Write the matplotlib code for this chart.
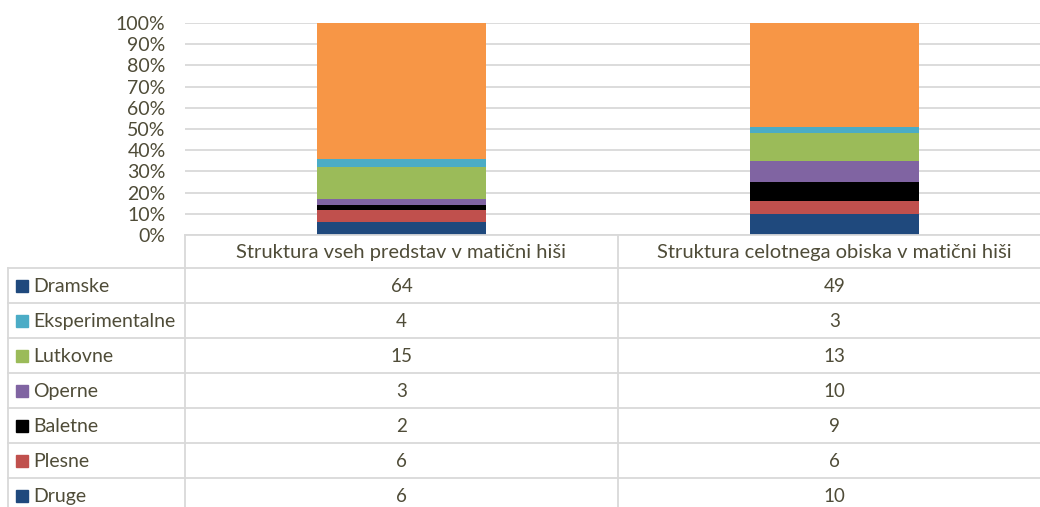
import numpy as np
import matplotlib
matplotlib.use('Agg')
import matplotlib.pyplot as plt
from matplotlib.patches import Rectangle

plt.rcParams['font.family'] = ['Lato', 'DejaVu Sans']

# data, bottom of stack first
categories = ['Druge', 'Plesne', 'Baletne', 'Operne', 'Lutkovne', 'Eksperimentalne', 'Dramske']
predstave = [6, 6, 2, 3, 15, 4, 64]
obisk = [10, 6, 9, 10, 13, 3, 49]
columns = ['Struktura vseh predstav v matični hiši', 'Struktura celotnega obiska v matični hiši']

bar_colors = ['#1F497D', '#C0504D', '#000000', '#8064A2', '#9BBB59', '#4BACC6', '#F79646']
# excel draws the Dramske key with the first colour in the table
key_colors = ['#1F497D', '#C0504D', '#000000', '#8064A2', '#9BBB59', '#4BACC6', '#1F497D']

txt = '#4F4C38'
grid = '#D9D9D9'
W, H = 1040, 507
fs = 13.5

fig = plt.figure(figsize=(W / 100, H / 100), dpi=100)

def fx(px):
    return px / W

def fy(py):
    return 1 - py / H

# bar area
col_w = 433
ax = fig.add_axes([fx(185), fy(235), fx(2 * col_w), fy(23) - fy(235)])
vals = np.array([predstave, obisk], dtype=float).T
vals = vals / vals.sum(axis=0)
bottom = np.zeros(2)
for v, c in zip(vals, bar_colors):
    ax.bar([0, 1], v, bottom=bottom, width=0.39, color=c, zorder=3)
    bottom += v
ax.set_xlim(-0.5, 1.5)
ax.set_ylim(0, 1)
ticks = np.arange(0, 1.01, 0.1)
ax.set_yticks(ticks)
ax.set_yticklabels(['%d%%' % round(t * 100) for t in ticks])
ax.tick_params(axis='y', length=0, pad=14, labelsize=fs + 0.5, labelcolor=txt)
ax.set_xticks([])
ax.grid(axis='y', color=grid, linewidth=1.3, zorder=0)
for s in ax.spines.values():
    s.set_visible(False)

# data table, drawn in pixel coords
tx = fig.add_axes([0, 0, 1, 1])
tx.set_xlim(0, W)
tx.set_ylim(H, 0)
tx.axis('off')

head_top, head_bot, row_h = 235, 268, 35
left, c1, c2, right = 8, 185, 185 + col_w, 185 + 2 * col_w
lw = 1.3
tx.plot([c1, right], [head_top, head_top], color=grid, lw=lw)
tx.plot([left, right], [head_bot, head_bot], color=grid, lw=lw)
for i in range(1, len(categories) + 1):
    y = head_bot + i * row_h
    tx.plot([left, right], [y, y], color=grid, lw=lw)
tx.plot([left, left], [head_bot, H + 20], color=grid, lw=lw)
tx.plot([c1, c1], [head_top, H + 20], color=grid, lw=lw)
tx.plot([c2, c2], [head_top, H + 20], color=grid, lw=lw)

for j, name in enumerate(columns):
    tx.text(c1 + col_w * (j + 0.5), (head_top + head_bot) / 2 + 1, name,
            ha='center', va='center', fontsize=fs + 1, color=txt)

rows = list(range(len(categories)))[::-1]
for r, k in enumerate(rows):
    yc = head_bot + (r + 0.5) * row_h
    tx.add_patch(Rectangle((16, yc - 6), 12, 12, color=key_colors[k]))
    tx.text(33, yc + 1, categories[k], ha='left', va='center', fontsize=fs + 0.5, color=txt)
    tx.text(c1 + col_w * 0.5, yc + 1, str(predstave[k]), ha='center', va='center',
            fontsize=fs, color=txt)
    tx.text(c1 + col_w * 1.5, yc + 1, str(obisk[k]), ha='center', va='center',
            fontsize=fs, color=txt)

fig.savefig('out.png', dpi=100)
